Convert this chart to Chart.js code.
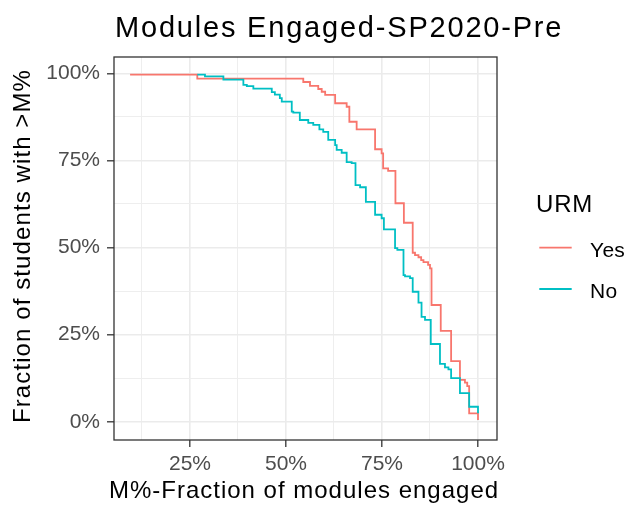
<!DOCTYPE html>
<html>
<head>
<meta charset="utf-8">
<script src="https://cdn.jsdelivr.net/npm/chart.js@4"></script>
<style>
  html, body { margin: 0; padding: 0; background: #fff; }
  #wrap { width: 628px; height: 506px; }
</style>
</head>
<body>
<div id="wrap"><canvas id="chart" width="628" height="506"></canvas></div>
<script>
// step curves: fraction of students engaging with more than M% of modules
const yesX = [0.094, 0.269, 0.545, 0.5625, 0.584, 0.593, 0.602, 0.628, 0.658, 0.665, 0.684, 0.732, 0.749, 0.753, 0.766, 0.785, 0.807, 0.830, 0.836, 0.845, 0.852, 0.858, 0.870, 0.875, 0.879, 0.903, 0.930, 0.953, 0.966, 0.972, 0.977, 1.0];
const yesY = [0.996, 0.985, 0.975, 0.964, 0.955, 0.947, 0.938, 0.914, 0.904, 0.861, 0.839, 0.782, 0.770, 0.727, 0.720, 0.627, 0.571, 0.485, 0.478, 0.472, 0.464, 0.458, 0.450, 0.440, 0.335, 0.261, 0.174, 0.120, 0.112, 0.102, 0.024, 0.005];
const noX  = [0.269, 0.289, 0.337, 0.389, 0.398, 0.415, 0.463, 0.471, 0.484, 0.489, 0.515, 0.519, 0.536, 0.558, 0.571, 0.587, 0.597, 0.610, 0.628, 0.632, 0.645, 0.658, 0.671, 0.681, 0.693, 0.708, 0.732, 0.749, 0.755, 0.784, 0.790, 0.806, 0.810, 0.823, 0.830, 0.845, 0.853, 0.862, 0.877, 0.901, 0.914, 0.923, 0.930, 0.953, 0.977, 1.0];
const noY  = [0.996, 0.991, 0.982, 0.967, 0.963, 0.956, 0.946, 0.939, 0.929, 0.919, 0.890, 0.887, 0.866, 0.858, 0.852, 0.839, 0.832, 0.809, 0.794, 0.780, 0.772, 0.745, 0.742, 0.679, 0.673, 0.631, 0.594, 0.584, 0.552, 0.498, 0.493, 0.421, 0.417, 0.412, 0.373, 0.342, 0.301, 0.292, 0.223, 0.166, 0.156, 0.150, 0.125, 0.082, 0.043, 0.024];

const groups = ['Yes', 'No'];
const colors = ['#F8766D', '#00BFC4'];

const xMajor = [0.25, 0.5, 0.75, 1.0];
const xMinor = [0.125, 0.375, 0.625, 0.875];
const xLabels = ['25%', '50%', '75%', '100%'];
const yMajor = [0, 0.25, 0.5, 0.75, 1.0];
const yMinor = [0.125, 0.375, 0.625, 0.875];
const yLabels = ['0%', '25%', '50%', '75%', '100%'];

const FONT = '"Liberation Sans", Arial, sans-serif';
const pts = (xs, ys) => xs.map((x, i) => ({x, y: ys[i]}));
const isMajor = (arr, v) => arr.some(m => Math.abs(m - v) < 1e-9);

function gridOpts(major) {
  return {
    color: c => isMajor(major, c.tick.value) ? '#EBEBEB' : '#EEEEEE',
    lineWidth: c => isMajor(major, c.tick.value) ? 1.6 : 1,
    tickColor: c => isMajor(major, c.tick.value) ? '#333333' : 'rgba(0,0,0,0)',
    tickWidth: 1.3,
    tickLength: 7,
    drawTicks: true
  };
}

// panel border, title, axis titles and legend, ggplot style
const decor = {
  id: 'decor',
  afterDraw(chart) {
    const ctx = chart.ctx, a = chart.chartArea;
    ctx.save();
    ctx.strokeStyle = '#333333'; ctx.lineWidth = 1.3;
    ctx.strokeRect(a.left, a.top, a.right - a.left, a.bottom - a.top);

    ctx.fillStyle = '#000';
    ctx.textBaseline = 'alphabetic';
    ctx.letterSpacing = '1.8px';
    ctx.font = '29px ' + FONT; ctx.textAlign = 'left';
    ctx.fillText('Modules Engaged-SP2020-Pre', 115, 36.7);

    ctx.letterSpacing = '1px';
    ctx.font = '24px ' + FONT; ctx.textAlign = 'center';
    ctx.fillText('M%-Fraction of modules engaged', 304, 498);
    ctx.save();
    ctx.translate(30, 246); ctx.rotate(-Math.PI / 2);
    ctx.letterSpacing = '1.1px';
    ctx.fillText('Fraction of students with >M%', 0, 0);
    ctx.restore();

    ctx.letterSpacing = '0.8px';
    ctx.textAlign = 'left';
    ctx.fillText('URM', 536, 211.7);
    ctx.letterSpacing = '0.3px';
    ctx.font = '21px ' + FONT;
    const rowY = [247.7, 289];
    groups.forEach((g, i) => {
      ctx.strokeStyle = colors[i]; ctx.lineWidth = 1.8;
      ctx.beginPath(); ctx.moveTo(539.3, rowY[i]); ctx.lineTo(571.7, rowY[i]); ctx.stroke();
      ctx.fillText(g, 590, rowY[i] + 9);
    });
    ctx.restore();
  }
};

new Chart(document.getElementById('chart'), {
  type: 'line',
  data: {
    datasets: [
      { label: groups[0], data: pts(yesX, yesY), borderColor: colors[0], borderWidth: 1.8, stepped: 'before', pointRadius: 0, fill: false, order: 1 },
      { label: groups[1], data: pts(noX, noY), borderColor: colors[1], borderWidth: 1.8, stepped: 'before', pointRadius: 0, fill: false, order: 0 }
    ]
  },
  options: {
    responsive: false,
    animation: false,
    layout: { padding: { left: 0, top: 57, right: 131, bottom: 0 } },
    plugins: { legend: { display: false }, title: { display: false }, tooltip: { enabled: false } },
    scales: {
      x: {
        type: 'linear', min: 0.0521, max: 1.0495,
        afterBuildTicks: s => { s.ticks = [...xMinor, ...xMajor].sort((p, q) => p - q).map(v => ({value: v})); },
        afterFit: s => { s.height = 66; },
        grid: gridOpts(xMajor),
        border: { display: false },
        ticks: {
          autoSkip: false, maxRotation: 0, padding: 5, color: '#4D4D4D', font: { family: FONT, size: 21 },
          callback: v => { const i = xMajor.findIndex(m => Math.abs(m - v) < 1e-9); return i >= 0 ? xLabels[i] : ''; }
        }
      },
      y: {
        type: 'linear', min: -0.0525, max: 1.0468,
        afterBuildTicks: s => { s.ticks = [...yMinor, ...yMajor].sort((p, q) => p - q).map(v => ({value: v})); },
        afterFit: s => { s.width = 114; },
        grid: gridOpts(yMajor),
        border: { display: false },
        ticks: {
          autoSkip: false, padding: 7, color: '#4D4D4D', font: { family: FONT, size: 21 },
          callback: v => { const i = yMajor.findIndex(m => Math.abs(m - v) < 1e-9); return i >= 0 ? yLabels[i] : ''; }
        }
      }
    }
  },
  plugins: [decor]
});
</script>
</body>
</html>
